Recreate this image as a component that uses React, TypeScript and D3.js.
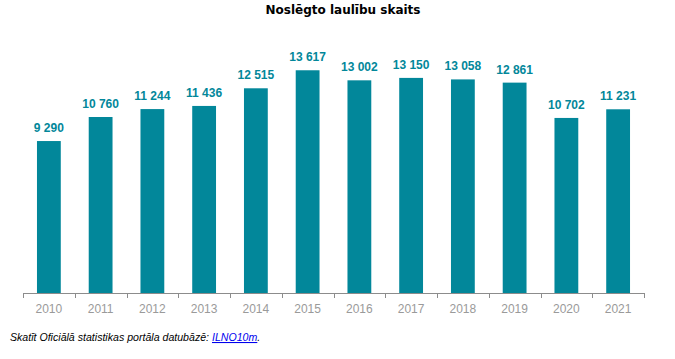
import React from "react";
import * as d3 from "d3";

const years = ["2010","2011","2012","2013","2014","2015","2016","2017","2018","2019","2020","2021"];
const values = [9290,10760,11244,11436,12515,13617,13002,13150,13058,12861,10702,11231];
const title = "Noslēgto laulību skaits";

const W = 675, H = 359;
const left = 23, right = 644, baseY = 293, topY = 64;
const barColor = "#02879a";

export default function App() {
  const x = d3.scaleBand<string>().domain(years).range([left, right]).paddingInner(0.54).paddingOuter(0.27);
  const y = d3.scaleLinear().domain([0, 14000]).range([baseY, topY]);
  const band = d3.scaleBand<string>().domain(years).range([left, right]);
  const fmt = (v: number) => d3.format(",")(v).replace(/,/g, "\u00a0");
  return (
    <svg width={W} height={H} style={{ position: "absolute", left: 0, top: 0 }}>
      <rect width={W} height={H} fill="#fff" />
      <text x={343} y={14} textAnchor="middle" fontFamily="DejaVu Sans, Verdana, sans-serif" fontWeight="bold" fontSize={12} fill="#000">{title}</text>
      {years.map((yr, i) => {
        const bx = x(yr)!;
        const bw = x.bandwidth();
        const top = y(values[i]);
        return (
          <g key={yr}>
            <rect x={bx} y={top} width={bw} height={baseY - top} fill={barColor} />
            <text x={bx + bw / 2} y={top - 9} textAnchor="middle" fontFamily="Liberation Sans, Arial, sans-serif" fontWeight="bold" fontSize={12} fill={barColor}>{fmt(values[i])}</text>
            <text x={band(yr)! + band.bandwidth() / 2} y={313} textAnchor="middle" fontFamily="Liberation Sans, Arial, sans-serif" fontSize={12} fill="#9a9a9a">{yr}</text>
          </g>
        );
      })}
      <line x1={left} x2={right} y1={baseY + 0.5} y2={baseY + 0.5} stroke="#8c8c8c" strokeWidth={1} />
      {[...years.map(yr => band(yr)!), right].map((tx, i) => (
        <line key={i} x1={Math.round(tx) + 0.5} x2={Math.round(tx) + 0.5} y1={baseY} y2={baseY + 5} stroke="#8c8c8c" strokeWidth={1} />
      ))}
      <text x={10} y={341} fontFamily="Liberation Sans, Arial, sans-serif" fontStyle="italic" fontSize={10.6} fill="#000">
        Skatīt Oficiālā statistikas portāla datubāzē: <tspan fill="#0000ee" textDecoration="underline">ILNO10m</tspan>.
      </text>
    </svg>
  );
}
